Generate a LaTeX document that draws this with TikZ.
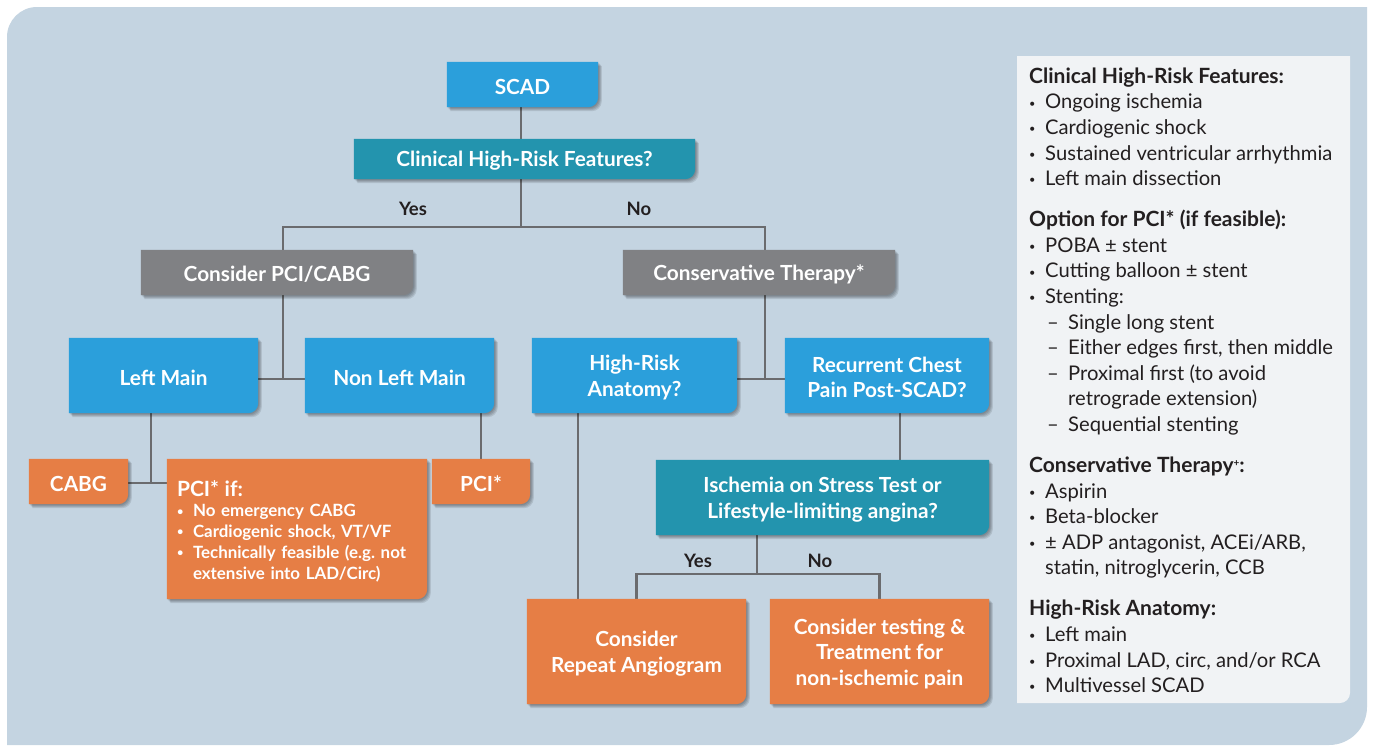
\documentclass[tikz,border=0pt]{standalone}
\usepackage{fontspec}
\setmainfont{Lato}
\usetikzlibrary{calc}

\definecolor{bgblue}{HTML}{C4D4E1}
\definecolor{panelgray}{HTML}{F1F3F5}
\definecolor{cblue}{HTML}{2B9FDB}
\definecolor{cteal}{HTML}{2394AE}
\definecolor{cgray}{HTML}{808184}
\definecolor{corange}{HTML}{E67E45}
\definecolor{cline}{HTML}{6A6B6E}
\definecolor{ctext}{HTML}{231F20}

\pgfdeclarelayer{back}
\pgfdeclarelayer{lines}
\pgfdeclarelayer{boxes}
\pgfsetlayers{back,lines,boxes,main}

\newcommand\boxfont{\bfseries\fontsize{20.8}{25.5}\selectfont}
\newcommand\panelfont{\fontsize{20.2}{25.6}\selectfont}
\newcommand\hd[1]{{\bfseries\fontsize{21}{25.6}\selectfont #1}}
\newcommand\bul{\makebox[16pt][l]{\raisebox{1.8pt}{\fontsize{11}{11}\selectfont\textbullet}}}
\newcommand\dsh{\hspace*{18pt}\makebox[21pt][l]{–}}

% outline of a box: square corners except the lower right one,
% shifted by (#2,#3); the text sits 2pt below the middle of the box
\newcommand\boxpath[3]{%
  ([xshift=#2, yshift=#3+2pt]#1.north west) --
  ([xshift=#2, yshift=#3+2pt]#1.north east) --
  ([xshift=#2, yshift=#3+12pt]#1.south east)
  arc[start angle=0, end angle=-90, radius=10pt] --
  ([xshift=#2, yshift=#3+2pt]#1.south west) -- cycle}

% filled box with a soft shadow to the lower right
\newcommand\shapebox[2]{%
  \foreach \s in {1,2,3,4}{%
    \fill[black, opacity=0.1] \boxpath{#1}{\s*0.9pt}{-\s*1.0pt};}
  \fill[#2] \boxpath{#1}{0pt}{0pt};}

\tikzset{
  box/.style={rectangle, inner sep=0pt, text=white, align=center, font=\boxfont},
  conn/.style={draw=cline, line width=2.5pt},
  yn/.style={text=ctext, font=\bfseries\fontsize{18.5}{20}\selectfont, inner sep=0pt}
}

\begin{document}
\begin{tikzpicture}[x=1pt, y=1pt]
\useasboundingbox (0,0) rectangle (1373,-745);

\begin{pgfonlayer}{back}
  \fill[white] (0,0) rectangle (1373,-745);
  \fill[bgblue] (7,-37) arc[start angle=180, end angle=90, radius=30pt]
    -- (1367,-7) -- (1367,-707) arc[start angle=0, end angle=-90, radius=38pt]
    -- (7,-745) -- cycle;
  \fill[panelgray] (1017,-56) -- (1350,-56) -- (1350,-693)
    arc[start angle=0, end angle=-90, radius=10pt] -- (1017,-703) -- cycle;
\end{pgfonlayer}

% flowchart boxes (centres 2pt below the middle of each drawn box)
\node[box, minimum width=151pt, minimum height=45pt] (scad) at (522.5,-86.5) {SCAD};
\node[box, minimum width=341pt, minimum height=40pt] (clin) at (524.5,-161) {Clinical High-Risk Features?};
\node[box, minimum width=272pt, minimum height=45pt] (pcicabg) at (277,-274.5) {Consider PCI/CABG};
\node[box, minimum width=272pt, minimum height=45pt] (consT) at (759,-274.5) {Conservative Therapy*};
\node[box, minimum width=189pt, minimum height=75pt] (lm) at (163.5,-377.5) {Left Main};
\node[box, minimum width=189pt, minimum height=75pt] (nlm) at (399.5,-377.5) {Non Left Main};
\node[box, minimum width=205pt, minimum height=75pt] (hra) at (634.5,-377.5) {High-Risk\\Anatomy?};
\node[box, minimum width=204pt, minimum height=75pt] (rcp) at (887,-377.5) {Recurrent Chest\\Pain Post-SCAD?};
\node[box, minimum width=99pt, minimum height=45pt] (cabg) at (78.5,-483.5) {CABG};
\node[box, minimum width=98pt, minimum height=45pt] (pcistar) at (481,-483.5) {PCI*};
\node[box, minimum width=260pt, minimum height=140pt, align=left, text width=240pt,
      font=\bfseries\fontsize{16.9}{20.7}\selectfont] (pciif) at (297,-531)
  {{\fontsize{21}{24}\selectfont PCI* if:}\\
   \bul No emergency CABG\\
   \bul Cardiogenic shock, VT/VF\\
   \bul Technically feasible (e.g.\ not\\
   \hspace*{16pt}extensive into LAD/Circ)};
\node[box, minimum width=333pt, minimum height=75pt] (isch) at (822.5,-499.5) {Ischemia on Stress Test or\\Lifestyle-limiting angina?};
\node[box, minimum width=219pt, minimum height=105pt] (rep) at (636.5,-653.5) {Consider\\Repeat Angiogram};
\node[box, minimum width=219pt, minimum height=105pt] (tst) at (879.5,-653.5) {Consider testing \&\\Treatment for\\non-ischemic pain};

\begin{pgfonlayer}{boxes}
  \shapebox{scad}{cblue}
  \shapebox{clin}{cteal}
  \shapebox{pcicabg}{cgray}
  \shapebox{consT}{cgray}
  \shapebox{lm}{cblue}
  \shapebox{nlm}{cblue}
  \shapebox{hra}{cblue}
  \shapebox{rcp}{cblue}
  \shapebox{cabg}{corange}
  \shapebox{pcistar}{corange}
  \shapebox{pciif}{corange}
  \shapebox{isch}{cteal}
  \shapebox{rep}{corange}
  \shapebox{tst}{corange}
\end{pgfonlayer}

% branch points of the connectors
\coordinate (fkTop) at (521,-227);
\coordinate (jL) at (283,-379);
\coordinate (jR) at (765,-379);
\coordinate (jLM) at (151,-483);
\coordinate (xHra) at (578,0);
\coordinate (xRcp) at (900,0);
\coordinate (fkIsch) at (757,-574);

% connectors run under the boxes, from box centre to box centre
\begin{pgfonlayer}{lines}
  \draw[conn] (scad.center -| fkTop) -- (fkTop);
  \draw[conn] (pcicabg.center -| jL) |- (fkTop) -| (consT.center -| jR);
  \draw[conn] (pcicabg.center -| jL) -- (jL);
  \draw[conn] (lm.center |- jL) -- (nlm.center |- jL);
  \draw[conn] (consT.center -| jR) -- (jR);
  \draw[conn] (hra.center |- jR) -- (rcp.center |- jR);
  \draw[conn] (lm.center -| jLM) -- (jLM);
  \draw[conn] (cabg.center |- jLM) -- (pciif.center |- jLM);
  \draw[conn] (nlm.center -| pcistar.center) -- (pcistar.center);
  \draw[conn] (hra.center -| xHra) -- (rep.center -| xHra);
  \draw[conn] (rcp.center -| xRcp) -- (isch.center -| xRcp);
  \draw[conn] (isch.center -| fkIsch) -- (fkIsch);
  \draw[conn] (rep.center) |- (fkIsch) -| (tst.center);
\end{pgfonlayer}

% branch labels
\node[yn] (yes1) at (413,-209) {Yes};
\node[yn] (no1) at (639,-209) {No};
\node[yn] (yes2) at (698,-561) {Yes};
\node[yn] (no2) at (820,-561) {No};

% side legend
\node[anchor=north west, inner sep=0pt, align=left, text=ctext, font=\panelfont] (legend) at (1029,-67.5)
  {\hd{Clinical High-Risk Features:}\\
   \bul Ongoing ischemia\\
   \bul Cardiogenic shock\\
   \bul Sustained ventricular arrhythmia\\
   \bul Left main dissection\\[15.4pt]
   \hd{Option for PCI* (if feasible):}\\
   \bul POBA ± stent\\
   \bul Cutting balloon ± stent\\
   \bul Stenting:\\
   \dsh Single long stent\\
   \dsh Either edges first, then middle\\
   \dsh Proximal first (to avoid\\
   \hspace*{39pt}retrograde extension)\\
   \dsh Sequential stenting\\[15.4pt]
   \hd{Conservative Therapy\raisebox{6pt}{\fontsize{10}{10}\selectfont +}:}\\
   \bul Aspirin\\
   \bul Beta-blocker\\
   \bul ± ADP antagonist, ACEi/ARB,\\
   \hspace*{16pt}statin, nitroglycerin, CCB\\[15.4pt]
   \hd{High-Risk Anatomy:}\\
   \bul Left main\\
   \bul Proximal LAD, circ, and/or RCA\\
   \bul Multivessel SCAD};
\end{tikzpicture}
\end{document}
